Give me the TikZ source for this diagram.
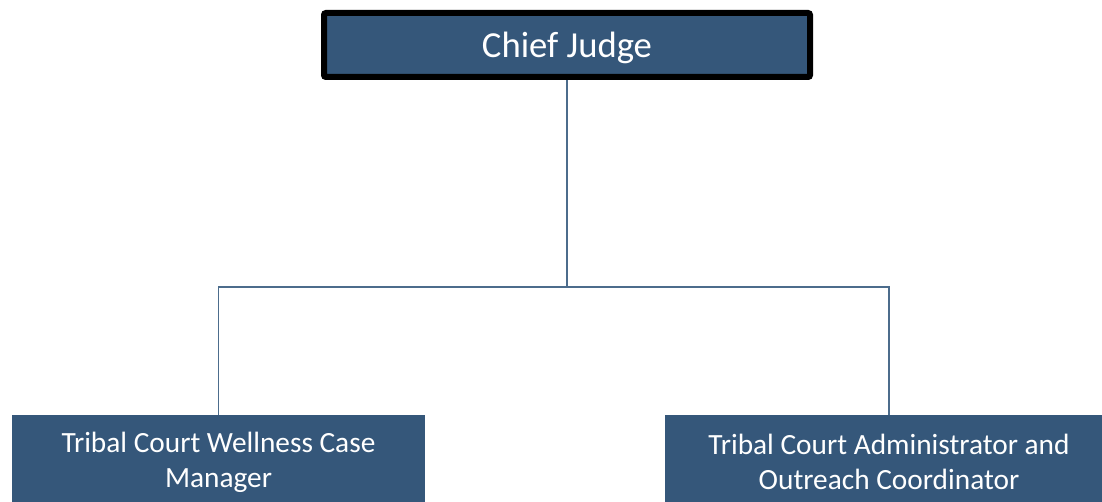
\documentclass[tikz,border=0pt]{standalone}
\usepackage{fontspec}
\setmainfont{Carlito}
\definecolor{boxblue}{HTML}{35577A}
\definecolor{linkblue}{HTML}{4C6C8C}

\begin{document}
\begin{tikzpicture}[x=0.75pt,y=-0.75pt,
		judge/.style={draw=black,line width=4.5pt,rounded corners=1.5pt,fill=boxblue,text=white,minimum width=364.5pt,minimum height=48pt,inner sep=0pt,text height=25pt,text depth=5.5pt,font=\fontsize{27.5}{33}\selectfont},
		staff/.style={fill=boxblue,text=white,align=center,minimum height=70.5pt,inner sep=0pt,font=\fontsize{22}{26.25}\selectfont},
		link/.style={draw=linkblue,line width=1.1pt}]
		\useasboundingbox (0,0) rectangle (1102,502);
		\clip (0,0) rectangle (1102,502);
		% boxes
		\node[judge] (chief) at (567,45) {Chief Judge};
		\node[staff,minimum width=309.75pt] (wellness) at (218.5,462) {Tribal Court Wellness Case\\Manager};
		\node[staff,minimum width=336pt] (admin) at (889,462) {Tribal Court Administrator and\\Outreach Coordinator};
		% connectors
		\coordinate (bus) at (567,287);
		\draw[link] (chief.south) -- (bus);
		\draw[link] (wellness.north) |- (bus);
		\draw[link] (admin.north) |- (bus);
		\end{tikzpicture}
\end{document}
